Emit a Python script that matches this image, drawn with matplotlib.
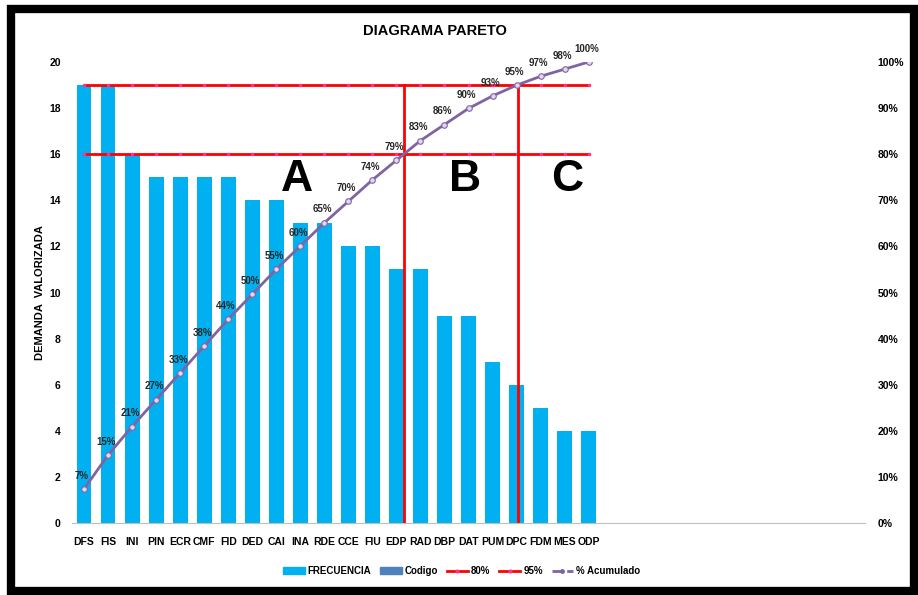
import matplotlib
matplotlib.use('Agg')
import matplotlib.pyplot as plt
from matplotlib.patches import Patch, Rectangle
from matplotlib.lines import Line2D
from matplotlib.ticker import PercentFormatter
import numpy as np

CODIGOS = ['DFS', 'FIS', 'INI', 'PIN', 'ECR', 'CMF', 'FID', 'DED', 'CAI', 'INA', 'RDE',
           'CCE', 'FIU', 'EDP', 'RAD', 'DBP', 'DAT', 'PUM', 'DPC', 'FDM', 'MES', 'ODP']
FRECUENCIA = [19, 19, 16, 15, 15, 15, 15, 14, 14, 13, 13, 12, 12, 11, 11, 9, 9, 7, 6, 5, 4, 4]
N_FILAS = 33          # filas del rango de la tabla (las vacias quedan sin barra)
LIMITE_A = 0.80
LIMITE_B = 0.95
CORTE_A = 13.3        # donde el acumulado cruza el 80%
CORTE_B = 18.05       # donde el acumulado cruza el 95%
ZONAS = ['A', 'B', 'C']
ZONAS_X = [8.85, 15.85, 20.1]

plt.rcParams['font.family'] = ['Liberation Sans', 'DejaVu Sans']
plt.rcParams['font.weight'] = 'bold'

AZUL = '#00B0F0'
MORADO = '#8064A2'
ROJO = '#FF0000'

x = np.arange(len(CODIGOS))
frec = np.array(FRECUENCIA)
acum = np.cumsum(frec) / frec.sum()

fig = plt.figure(figsize=(9.18, 5.95), dpi=100)
ax = fig.add_axes([0.0784, 0.121, 0.8639, 0.7748])
ax2 = ax.twinx()

ax.bar(x, frec, width=0.62, color=AZUL, zorder=1)
ax.set_xlim(-0.5, N_FILAS - 0.5)
ax.set_ylim(0, 20)
ax.set_yticks(np.arange(0, 21, 2))
ax.set_xticks(x)
ax.set_xticklabels(CODIGOS, fontsize=7, fontweight='bold')
ax.tick_params(length=0, labelsize=7.5, pad=10)
ax.tick_params(axis='y', pad=8)
for s in ['top', 'right', 'left']:
    ax.spines[s].set_visible(False)
ax.spines['bottom'].set_color('#BFBFBF')
ax.spines['bottom'].set_linewidth(0.8)
ax.set_ylabel('DEMANDA  VALORIZADA', fontsize=8, fontweight='bold')
ax.yaxis.set_label_coords(-0.034, 0.5)

# lineas de corte 80% / 95%
ax2.plot(x, [LIMITE_A] * len(x), color=ROJO, lw=2, marker='o', ms=1.5,
         mfc='#FF3399', mec='#FF3399', zorder=3)
ax2.plot(x, [LIMITE_B] * len(x), color=ROJO, lw=2, marker='o', ms=1.5,
         mfc='#FF3399', mec='#FF3399', zorder=3)
ax2.plot([CORTE_A, CORTE_A], [0, LIMITE_B], color=ROJO, lw=2, zorder=3)
ax2.plot([CORTE_B, CORTE_B], [0, LIMITE_B], color=ROJO, lw=2, zorder=3)

# curva de % acumulado
ax2.plot(x, acum, color=MORADO, lw=2, marker='o', ms=4, mfc='#E4D6EE',
         mec=MORADO, mew=0.8, zorder=4)
for xi, yi in zip(x, acum):
    ax2.annotate('%d%%' % round(yi * 100), (xi, yi), xytext=(-1.5, 6),
                 textcoords='offset points', ha='center', va='bottom',
                 fontsize=7, fontweight='bold', color='#262626')

ax2.set_ylim(0, 1)
ax2.set_yticks(np.arange(0, 1.01, 0.1))
ax2.yaxis.set_major_formatter(PercentFormatter(1.0, decimals=0))
ax2.tick_params(length=0, labelsize=7.5, pad=9)
for s in ax2.spines.values():
    s.set_visible(False)

for letra, lx in zip(ZONAS, ZONAS_X):
    ax.text(lx, 14.9, letra, fontsize=32, fontweight='bold', ha='center',
            va='center', color='black', zorder=5)

fig.text(0.474, 0.948, 'DIAGRAMA PARETO', ha='center', va='center',
         fontsize=10.5, fontweight='bold')

handles = [
    Patch(color=AZUL),
    Patch(color='#4F81BD'),
    Line2D([], [], color=ROJO, lw=2, marker='o', ms=2, mfc='#FF3399', mec='#FF3399'),
    Line2D([], [], color=ROJO, lw=2, marker='o', ms=2, mfc='#FF3399', mec='#FF3399'),
    Line2D([], [], color=MORADO, lw=2, ls='--', marker='o', ms=2.5),
]
etiquetas = ['FRECUENCIA', 'Codigo', '80%', '95%', '% Acumulado']
fig.legend(handles, etiquetas, loc='center', bbox_to_anchor=(0.503, 0.04), ncol=5,
           frameon=False, fontsize=7, handlelength=2.2, columnspacing=0.9,
           handletextpad=0.3)

# marco negro del grafico
fig.add_artist(Rectangle((11 / 918, 4 / 595), 903 / 918, 582 / 595,
                         transform=fig.transFigure, fill=False,
                         edgecolor='black', lw=6, zorder=10))

fig.savefig('out.png', dpi=100)
